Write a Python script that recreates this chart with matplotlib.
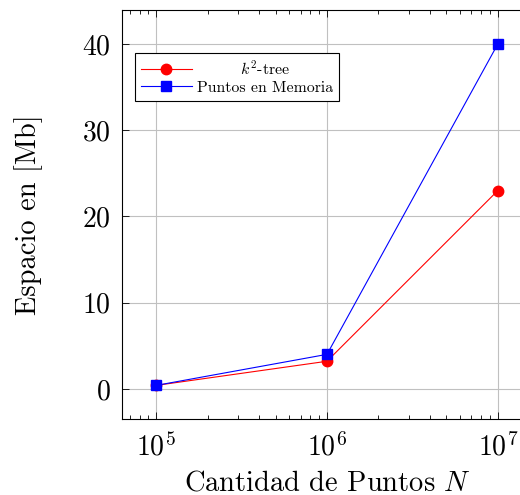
import numpy as np
import matplotlib
matplotlib.use('Agg')
import matplotlib.pyplot as plt
from matplotlib.ticker import LogLocator

# fuente tipo LaTeX
plt.rcParams['font.family'] = 'cmr10'
plt.rcParams['mathtext.fontset'] = 'cm'
plt.rcParams['axes.unicode_minus'] = False
plt.rcParams['axes.formatter.use_mathtext'] = True

# datos
n_puntos = [1e5, 1e6, 1e7]
k2_tree = [0.4, 3.2, 23.0]
puntos_memoria = [0.4, 4.0, 40.0]

fig = plt.figure(figsize=(5.2, 4.95), dpi=100)
# el eje derecho queda fuera del lienzo (recorte)
ax = fig.add_axes([0.2346, 0.1535, 0.7885, 0.8263])

ax.plot(n_puntos, k2_tree, '-o', color='red', linewidth=0.8, markersize=7.5,
        label=r'$k^2$-tree')
ax.plot(n_puntos, puntos_memoria, '-s', color='blue', linewidth=0.8, markersize=7.5,
        label='Puntos en Memoria')

ax.set_xscale('log')
ax.set_xlim(10 ** 4.8, 10 ** 7.2)
ax.set_ylim(-3.5, 43.94)
ax.set_yticks([0, 10, 20, 30, 40])
ax.xaxis.set_major_locator(LogLocator(base=10, numticks=10))
ax.xaxis.set_minor_locator(LogLocator(base=10, subs=np.arange(2, 10), numticks=10))

ax.grid(True, which='major', color='#c0c0c0', linewidth=0.8)
ax.set_axisbelow(True)
ax.tick_params(which='both', direction='in', top=True, right=True, labelsize=20, width=0.6)
ax.tick_params(which='major', length=5)
ax.tick_params(axis='x', which='major', pad=10)
ax.tick_params(axis='y', which='major', pad=8)
ax.tick_params(which='minor', length=3)
for s in ax.spines.values():
    s.set_linewidth(0.8)

ax.set_xlabel(r'Cantidad de Puntos $N$', fontsize=20.5, labelpad=6)
ax.set_ylabel('Espacio en [Mb]', fontsize=20.5, labelpad=28)

leg = ax.legend(loc='upper left', bbox_to_anchor=(0.012, 0.915), fontsize=11.4,
                fancybox=False, edgecolor='black', framealpha=1,
                handlelength=3.2, borderpad=0.4, labelspacing=0.2, handletextpad=0.3)
leg.get_frame().set_linewidth(0.8)

# centrar los textos de la leyenda
fig.canvas.draw()
r = fig.canvas.get_renderer()
textos = leg.get_texts()
anchos = [t.get_window_extent(r).width for t in textos]
for t, w in zip(textos, anchos):
    t.set_x((max(anchos) - w) / 2)

fig.savefig('out.png', dpi=100)
